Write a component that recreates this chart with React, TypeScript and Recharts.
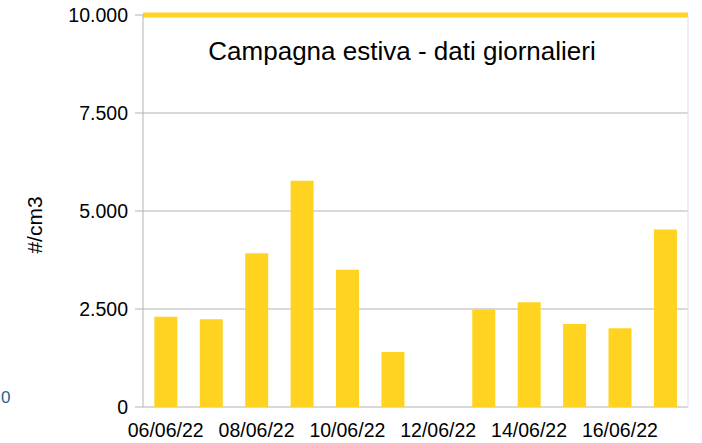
import React from 'react';
import { BarChart, Bar, XAxis, YAxis, CartesianGrid, ReferenceLine } from 'recharts';

const categories = ['06/06/22', '07/06/22', '08/06/22', '09/06/22', '10/06/22', '11/06/22', '12/06/22', '13/06/22', '14/06/22', '15/06/22', '16/06/22', '17/06/22'];
const values: (number | null)[] = [2300, 2240, 3920, 5770, 3500, 1400, null, 2490, 2670, 2120, 2010, 4530];
const yTicks = [0, 2500, 5000, 7500, 10000];
const boundaryTicks = [0, 2, 4, 6, 8, 10, 12];
const limitValue = 10000;
const title = 'Campagna estiva - dati giornalieri';
const yLabel = '#/cm3';

const data = categories.map((c, i) => ({ day: c, idx: i, value: values[i] }));

const fmt = (v: number) => String(v).replace(/\B(?=(\d{3})+(?!\d))/g, '.');

const FONT = '"Liberation Sans", Arial, sans-serif';
const GRID = '#b3b3b3';
const YELLOW = '#FFD320';

export default function App() {
  return (
    <div style={{ position: 'absolute', left: 0, top: 0, width: 702, height: 443, background: '#fff' }}>
      <BarChart
        width={702}
        height={443}
        data={data}
        margin={{ top: 15, right: 0, left: 0, bottom: 0 }}
        barCategoryGap="25%"
        style={{ fontFamily: FONT }}
      >
        <CartesianGrid vertical={false} stroke={GRID} />
        <XAxis
          xAxisId="n"
          type="number"
          dataKey="idx"
          domain={[0, 12]}
          ticks={boundaryTicks}
          allowDataOverflow
          height={0}
          tick={false}
          tickSize={8}
          tickLine={{ stroke: GRID }}
          axisLine={{ stroke: GRID }}
        />
        <XAxis
          dataKey="day"
          interval={1}
          height={36}
          tickLine={false}
          axisLine={false}
          tickSize={8}
          tickMargin={8}
          tick={{ fill: '#000', fontSize: 19.5, fontFamily: FONT }}
        />
        <YAxis
          domain={[0, 10000]}
          ticks={yTicks}
          width={143}
          tickSize={8}
          tickMargin={7}
          tickFormatter={fmt}
          tickLine={{ stroke: GRID }}
          axisLine={{ stroke: GRID }}
          tick={{ fill: '#000', fontSize: 19.5, fontFamily: FONT }}
        />
        <YAxis
          yAxisId="r"
          orientation="right"
          width={14}
          tick={false}
          tickLine={false}
          axisLine={{ stroke: '#dddddd' }}
        />
        <Bar dataKey="value" fill={YELLOW} isAnimationActive={false} />
        <ReferenceLine y={limitValue} stroke={YELLOW} strokeWidth={5} />
        <text x={402} y={60} textAnchor="middle" fontSize={26} fontFamily={FONT} fill="#000">{title}</text>
        <text x={0} y={0} transform="translate(42,225) rotate(-90)" textAnchor="middle" fontSize={21} fontFamily={FONT} fill="#000">{yLabel}</text>
        <text x={1} y={403} fontSize={17} fontFamily={FONT} fill="#2a6099">0</text>
      </BarChart>
    </div>
  );
}
